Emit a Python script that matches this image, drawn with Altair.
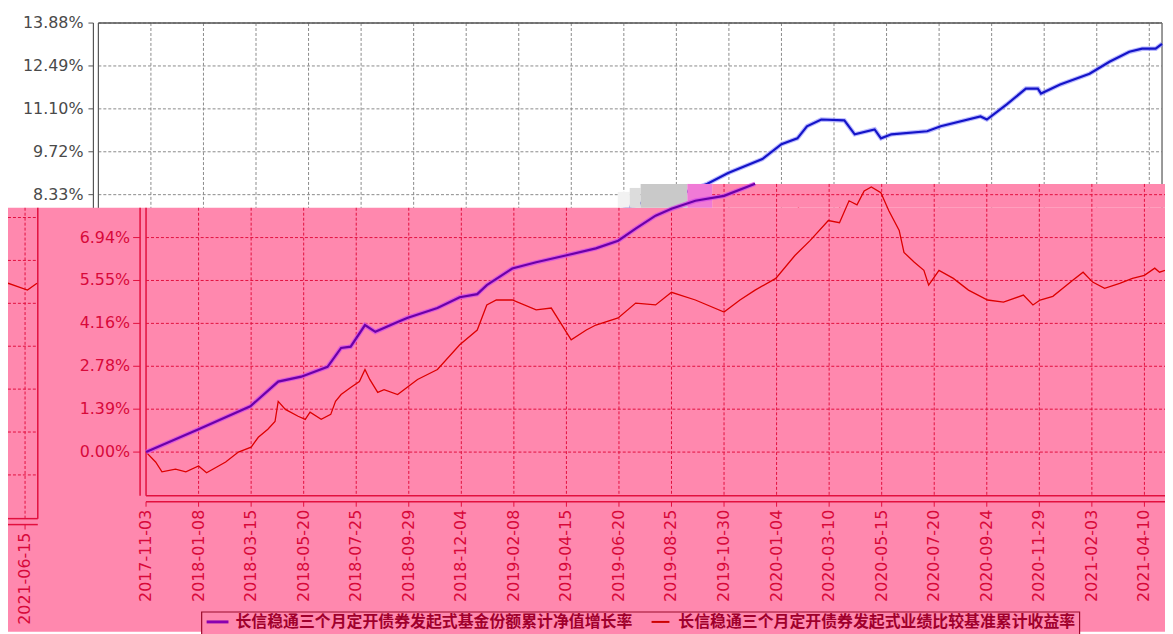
import altair as alt
import pandas as pd

# ---------------- data ----------------
fund_dates = ["2017-11-03", "2018-01-08", "2018-03-14", "2018-04-18", "2018-05-17", "2018-06-19",
              "2018-07-06", "2018-07-18", "2018-08-05", "2018-08-18", "2018-09-15", "2018-09-27",
              "2018-11-04", "2018-12-02", "2018-12-24", "2019-01-05", "2019-02-06", "2019-03-08",
              "2019-04-14", "2019-05-22", "2019-06-19", "2019-07-11", "2019-08-05", "2019-08-25",
              "2019-09-24", "2019-10-30", "2019-12-08", "2020-01-03", "2020-02-15", "2020-03-10",
              "2020-03-30", "2020-04-11", "2020-04-29", "2020-05-28", "2020-06-10", "2020-07-05",
              "2020-07-13", "2020-07-26", "2020-09-09", "2020-09-26", "2020-11-15", "2020-11-23",
              "2020-12-18", "2021-01-11", "2021-01-26", "2021-01-30", "2021-02-23", "2021-04-01",
              "2021-04-26", "2021-05-21", "2021-06-06", "2021-06-23", "2021-07-01"]
fund_values = [0.00, 0.74, 1.48, 2.28, 2.44, 2.76, 3.37, 3.41, 4.11, 3.89, 4.21, 4.34,
               4.66, 5.01, 5.11, 5.40, 5.94, 6.14, 6.36, 6.59, 6.84, 7.23, 7.65, 7.87,
               8.13, 8.29, 8.68, 9.03, 9.48, 9.96, 10.15, 10.54, 10.76, 10.73, 10.28, 10.44,
               10.15, 10.28, 10.38, 10.54, 10.86, 10.76, 11.25, 11.76, 11.76, 11.60, 11.89, 12.24,
               12.63, 12.95, 13.05, 13.05, 13.21]

bench_dates = ["2017-11-03", "2017-11-15", "2017-11-23", "2017-12-10", "2017-12-23", "2018-01-08",
               "2018-01-18", "2018-02-11", "2018-02-27", "2018-03-15", "2018-03-24", "2018-04-05",
               "2018-04-14", "2018-04-18", "2018-04-27", "2018-05-13", "2018-05-22", "2018-05-28",
               "2018-06-11", "2018-06-23", "2018-06-29", "2018-07-06", "2018-07-18", "2018-07-29",
               "2018-08-05", "2018-08-11", "2018-08-21", "2018-08-29", "2018-09-15", "2018-10-10",
               "2018-11-04", "2018-12-02", "2018-12-24", "2019-01-05", "2019-01-17", "2019-02-06",
               "2019-03-08", "2019-03-27", "2019-04-21", "2019-05-10", "2019-05-22", "2019-06-19",
               "2019-07-11", "2019-08-05", "2019-08-25", "2019-09-24", "2019-10-30", "2019-11-19",
               "2019-12-08", "2020-01-03", "2020-01-27", "2020-02-15", "2020-03-09", "2020-03-23",
               "2020-04-04", "2020-04-14", "2020-04-23", "2020-05-02", "2020-05-14", "2020-05-24",
               "2020-06-06", "2020-06-12", "2020-06-25", "2020-07-07", "2020-07-13", "2020-07-26",
               "2020-08-13", "2020-09-01", "2020-09-25", "2020-10-15", "2020-11-09", "2020-11-21",
               "2020-11-30", "2020-12-16", "2021-01-10", "2021-01-23", "2021-02-04", "2021-02-19",
               "2021-03-10", "2021-03-26", "2021-04-10", "2021-04-23", "2021-04-29", "2021-05-06",
               "2021-05-25", "2021-06-18", "2021-06-30"]
bench_values = [0.00, -0.32, -0.64, -0.55, -0.64, -0.45,
                -0.67, -0.32, 0.00, 0.16, 0.48, 0.74,
                0.99, 1.64, 1.38, 1.16, 1.06, 1.29,
                1.06, 1.22, 1.64, 1.86, 2.09, 2.28,
                2.67, 2.35, 1.93, 2.02, 1.86, 2.35,
                2.67, 3.47, 3.95, 4.76, 4.92, 4.92,
                4.60, 4.66, 3.63, 3.95, 4.11, 4.34,
                4.82, 4.76, 5.17, 4.92, 4.53, 4.92,
                5.24, 5.62, 6.36, 6.84, 7.49, 7.42,
                8.13, 8.00, 8.45, 8.58, 8.39, 7.81,
                7.17, 6.46, 6.14, 5.88, 5.40, 5.88,
                5.62, 5.24, 4.92, 4.85, 5.08, 4.76,
                4.92, 5.04, 5.56, 5.82, 5.50, 5.30,
                5.46, 5.62, 5.72, 5.95, 5.82, 5.88,
                6.20, 5.98, 6.20]

x_tick_dates = ["2017-11-03", "2018-01-08", "2018-03-15", "2018-05-20", "2018-07-25", "2018-09-29",
                "2018-12-04", "2019-02-08", "2019-04-15", "2019-06-20", "2019-08-25", "2019-10-30",
                "2020-01-04", "2020-03-10", "2020-05-15", "2020-07-20", "2020-09-24", "2020-11-29",
                "2021-02-03", "2021-04-10", "2021-06-15"]
y_tick_values = [0.0, 1.388, 2.776, 4.164, 5.552, 6.94, 8.328, 9.716, 11.104, 12.492, 13.88]
y_tick_labels = ["0.00%", "1.39%", "2.78%", "4.16%", "5.55%", "6.94%", "8.33%", "9.72%",
                 "11.10%", "12.49%", "13.88%"]
legend_labels = ["长信稳通三个月定开债券发起式基金份额累计净值增长率",
                 "长信稳通三个月定开债券发起式业绩比较基准累计收益率"]
title_text = "图"

# ---------------- tables ----------------
START = pd.Timestamp("2017-11-03")


def to_days(ds):
    return [(pd.Timestamp(d) - START).days for d in ds]


fund = pd.DataFrame({"d": to_days(fund_dates), "v": fund_values})
bench = pd.DataFrame({"d": to_days(bench_dates), "v": bench_values})
xt = pd.DataFrame({"d": to_days(x_tick_dates), "label": x_tick_dates})
yt = pd.DataFrame({"v": y_tick_values, "label": y_tick_labels})
one = pd.DataFrame({"k": [0]})
leg = pd.DataFrame({"label": legend_labels, "slot": [0, 1]})

# ---------------- geometry ----------------
W, H = 1165, 626
DMAX = 1336
VMIN, VMAX = -1.414, 13.88
WL, WR, WT, WB = 91, 1162, 13, 489      # white plot frame
SHIFT = 48                              # pink copy horizontal shift
WRAP = 1180                             # wrapped strip
DROP = 23                               # wrapped strip vertical shift
PTOP, PTOP2, PX2 = 199, 175, 709        # pink region tops

GRAY = "#8a8a8a"
TXT_W = "#4a4a4a"
PINK = "#ff88ae"
RED = "#e2103e"
RED_TXT = "#d8093a"
FONT = "DejaVu Sans"
FS = 16


def X(dx, field="d"):
    return alt.X(f"{field}:Q", axis=None,
                 scale=alt.Scale(domain=[0, DMAX], range=[WL + dx, WR + dx], nice=False, zero=False))


def Y(dy, field="v"):
    return alt.Y(f"{field}:Q", axis=None,
                 scale=alt.Scale(domain=[VMIN, VMAX], range=[WB + dy, WT + dy], nice=False, zero=False))


def box(x1, x2, y1, y2, color):
    return alt.Chart(one).mark_rect(color=color).encode(
        x=alt.value(x1), x2=alt.value(x2), y=alt.value(y1), y2=alt.value(y2))


def hline(xa, xb, ya, color, w=1.0):
    return alt.Chart(one).mark_rule(color=color, strokeWidth=w).encode(
        x=alt.value(xa), x2=alt.value(xb), y=alt.value(ya))


def vline(xa, ya, yb, color, w=1.0):
    return alt.Chart(one).mark_rule(color=color, strokeWidth=w).encode(
        x=alt.value(xa), y=alt.value(ya), y2=alt.value(yb))


layers = []

# ---------- white (original) chart ----------
layers.append(alt.Chart(yt).mark_rule(color=GRAY, strokeDash=[3, 2]).encode(
    y=Y(0), x=alt.value(WL), x2=alt.value(WR)))
layers.append(alt.Chart(xt[xt.d > 0]).mark_rule(color=GRAY, strokeDash=[3, 2]).encode(
    x=X(0), y=alt.value(WT), y2=alt.value(WB)))
layers.append(hline(WL, WR, WT, "#555555", 1.5))
layers.append(vline(WR, WT, WB, "#777777", 1.5))
layers.append(vline(WL, WT, WB, "#555555", 1.2))
layers.append(vline(86, WT, WB, "#555555", 1.2))
layers.append(alt.Chart(yt).mark_rule(color="#555555").encode(
    y=Y(0), x=alt.value(81), x2=alt.value(86)))
layers.append(alt.Chart(yt).mark_text(align="right", baseline="middle", font=FONT,
                                      fontSize=FS, color=TXT_W).encode(
    y=Y(0), x=alt.value(76), text="label:N"))
layers.append(alt.Chart(fund).mark_line(color="#8a8aff", strokeWidth=4.5, opacity=0.6).encode(x=X(0), y=Y(0)))
layers.append(alt.Chart(fund).mark_line(color="#1414c8", strokeWidth=2.2).encode(x=X(0), y=Y(0)))
layers.append(alt.Chart(bench).mark_line(color="#dd0000", strokeWidth=1.3).encode(x=X(0), y=Y(0)))
layers.append(alt.Chart(pd.DataFrame({"t": [title_text]})).mark_text(
    font="Noto Sans CJK SC", fontSize=20, fontWeight="bold", color="#333333",
    baseline="bottom", align="center").encode(x=alt.value(590), y=alt.value(-2), text="t:N"))

# ---------- pink (shifted copy) ----------
layers.append(box(0, W, PTOP, H, PINK))
layers.append(box(PX2, W, PTOP2, PTOP, PINK))
layers.append(box(614, 626, PTOP2 + 8, PTOP, "#f2f2f2"))
layers.append(box(626, 637, PTOP2 + 4, PTOP, "#dcdcdc"))
layers.append(box(637, 684, PTOP2, PTOP, "#c9c9c9"))
layers.append(box(684, PX2, PTOP2, PTOP, "#f07ad6"))

# gridlines
layers.append(alt.Chart(yt[yt.v < 8]).mark_rule(color=RED, strokeDash=[3, 2]).encode(
    y=Y(0), x=alt.value(WL + SHIFT), x2=alt.value(W)))
layers.append(alt.Chart(yt[(yt.v > 8) & (yt.v < 9)]).mark_rule(color=RED, strokeDash=[3, 2]).encode(
    y=Y(0), x=alt.value(PX2), x2=alt.value(W)))
layers.append(alt.Chart(xt[(xt.d > 0) & (xt.d <= 690)]).mark_rule(color=RED, strokeDash=[3, 2]).encode(
    x=X(SHIFT), y=alt.value(PTOP), y2=alt.value(WB)))
layers.append(alt.Chart(xt[(xt.d > 690) & (xt.d < 1290)]).mark_rule(color=RED, strokeDash=[3, 2]).encode(
    x=X(SHIFT), y=alt.value(PTOP2), y2=alt.value(WB)))

# frame and axes
layers.append(vline(WL + SHIFT, PTOP, WB, RED, 1.5))
layers.append(hline(WL + SHIFT, W, WB, RED, 1.5))
layers.append(vline(WL + SHIFT - 6, PTOP, WB, RED, 1.5))
layers.append(hline(WL + SHIFT, W, WB + 6, RED, 1.5))
layers.append(alt.Chart(yt[yt.v < 8]).mark_rule(color=RED).encode(
    y=Y(0), x=alt.value(126), x2=alt.value(133)))
layers.append(alt.Chart(xt[xt.d < 1290]).mark_rule(color=RED).encode(
    x=X(SHIFT), y=alt.value(WB + 6), y2=alt.value(WB + 11)))

# series
layers.append(alt.Chart(bench).mark_line(color="#dd0000", strokeWidth=1.3).encode(x=X(SHIFT), y=Y(0)))
fund_pink = fund[fund.v <= 8.7]
layers.append(alt.Chart(fund_pink).mark_line(color="#d44ee6", strokeWidth=4.5, opacity=0.8).encode(x=X(SHIFT), y=Y(0)))
layers.append(alt.Chart(fund_pink).mark_line(color="#6a00a8", strokeWidth=2.2).encode(x=X(SHIFT), y=Y(0)))

# labels
layers.append(alt.Chart(yt[yt.v < 8]).mark_text(align="right", baseline="middle", font=FONT,
                                                fontSize=FS, color=RED_TXT).encode(
    y=Y(0), x=alt.value(123), text="label:N"))
layers.append(alt.Chart(xt[xt.d < 1290]).mark_text(align="right", baseline="middle", angle=270, font=FONT,
                                                   fontSize=FS, color=RED_TXT).encode(
    x=X(SHIFT), y=alt.value(WB + 14), text="label:N"))

# ---------- wrapped strip at the far left ----------
SX = SHIFT - WRAP
xt_strip = xt[xt.d > 1290]
layers.append(alt.Chart(yt[yt.v < 9]).mark_rule(color=RED, strokeDash=[3, 2]).encode(
    y=Y(DROP), x=alt.value(0), x2=alt.value(WR + SX)))
layers.append(alt.Chart(xt_strip).mark_rule(color=RED, strokeDash=[3, 2]).encode(
    x=X(SX), y=alt.value(PTOP), y2=alt.value(WB + DROP)))
layers.append(vline(WR + SX, PTOP, WB + DROP, RED, 1.5))
layers.append(hline(0, WR + SX, WB + DROP, RED, 1.5))
layers.append(hline(0, WR + SX, WB + DROP + 6, RED, 1.5))
layers.append(alt.Chart(xt_strip).mark_rule(color=RED).encode(
    x=X(SX), y=alt.value(WB + DROP + 6), y2=alt.value(WB + DROP + 11)))
layers.append(alt.Chart(bench).mark_line(color="#dd0000", strokeWidth=1.3).encode(x=X(SX), y=Y(DROP)))
layers.append(alt.Chart(xt_strip).mark_text(align="right", baseline="middle", angle=270, font=FONT,
                                            fontSize=FS, color=RED_TXT).encode(
    x=X(SX), y=alt.value(WB + DROP + 14), text="label:N"))

# ---------- legend ----------
layers.append(alt.Chart(one).mark_rect(fill=PINK, stroke="#9a0a2a", strokeWidth=1.2).encode(
    x=alt.value(195), x2=alt.value(1079), y=alt.value(606), y2=alt.value(640)))
layers.append(hline(200, 222, 616, "#8a00b0", 3))
layers.append(hline(648, 666, 616, "#cc0000", 2))
layers.append(alt.Chart(leg).mark_text(align="left", baseline="middle", font="Noto Sans CJK SC",
                                       fontSize=16, fontWeight="bold", color="#a0002c").encode(
    x=alt.X("slot:Q", axis=None, scale=alt.Scale(domain=[0, 1], range=[229, 675], nice=False, zero=False)),
    y=alt.value(616), text="label:N"))

chart = alt.layer(*layers).resolve_scale(x="independent", y="independent").properties(
    width=W, height=H, autosize=alt.AutoSizeParams(type="none"), padding=0
).configure_view(stroke=None)

chart.save("out.html", embed_options={"renderer": "svg", "actions": False})
